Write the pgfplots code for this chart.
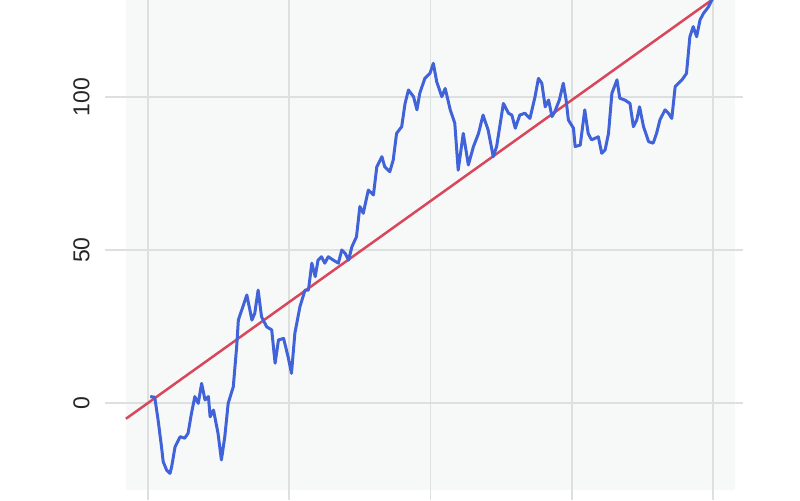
\documentclass[border=0pt]{standalone}
\usepackage{pgfplots}
\pgfplotsset{compat=1.18}
\usepackage{fontspec}
\setmainfont{Liberation Sans}
\definecolor{bgc}{HTML}{F7F9F9}
\definecolor{gridc}{HTML}{DEE0E0}
\definecolor{walkblue}{HTML}{4163D9}
\definecolor{trendred}{HTML}{D9475C}
\begin{document}
\begin{tikzpicture}
\begin{axis}[
  set layers,
  scale only axis,
  width=319pt, height=250pt,
  at={(52.5pt,0pt)}, anchor=north west,
  xmin=-76, xmax=1053, ymin=-31.7, ymax=131.7,
  axis line style={draw=none},
  tick style={draw=none},
  xtick={0,250,500,750,1000}, xticklabels={},
  ytick={0,50,100},
  ytick pos=left,
  grid=major,
  major grid style={gridc, line width=0.8pt},
  major tick length=0pt,
  /pgf/number format/assume math mode=true,
  yticklabel style={xshift=-7.5pt, rotate=90, anchor=south, inner sep=0pt, font=\fontsize{11.5}{13}\selectfont, text=black!85},
]
\addplot[fill=bgc, draw=none, on layer=axis background, forget plot] coordinates {(-39,-28.4) (1039,-28.4) (1039,131.7) (-39,131.7)} -- cycle;
\addplot[trendred, line width=1.25pt] coordinates {(-39,-5.15) (1050,138.6)};
\addplot[walkblue, line width=1.5pt, line join=round] coordinates {
(4,2.1) (12,1.9) (18,-5.6) (24,-14.3) (27,-19.2) (33,-21.9) (39,-23.0) (42,-20.8)
(48,-14.3) (57,-11.0) (65,-11.5) (71,-9.9) (77,-3.4) (83,2.1) (89,-0.1) (95,6.4)
(101,1.0) (107,2.1) (110,-4.5) (116,-2.3) (124,-9.9) (130,-18.6) (136,-11.0) (142,-0.1)
(151,5.3) (157,18.4) (160,27.1) (166,30.4) (175,35.3) (184,27.1) (189,29.3) (195,36.9)
(201,28.2) (210,24.9) (219,23.9) (225,13.0) (231,20.6) (240,21.1) (248,15.1) (254,9.7)
(260,22.8) (269,31.5) (278,36.9) (284,36.9) (290,45.7) (296,41.3) (301,46.7) (307,47.8)
(313,45.7) (319,47.8) (328,46.7) (337,45.7) (343,50.0) (349,48.9) (355,46.7) (361,51.1)
(369,54.3) (375,64.2) (381,62.0) (390,69.6) (399,68.0) (405,77.2) (414,80.5) (419,77.2)
(428,75.6) (434,79.4) (440,88.1) (449,90.3) (455,97.9) (461,102.3) (470,100.1) (476,95.8)
(481,101.2) (490,106.1) (499,107.7) (505,111.0) (511,105.0) (520,100.1) (526,102.8) (535,95.8)
(543,91.4) (549,76.1) (558,88.1) (567,77.8) (576,83.8) (585,88.1) (593,94.1) (602,89.2)
(611,80.5) (617,83.8) (629,97.9) (638,94.7) (644,94.1) (650,89.8) (658,94.1) (667,94.7)
(676,93.0) (685,100.1) (691,106.1) (697,104.5) (703,96.8) (709,99.0) (715,93.6) (720,95.2)
(728,99.0) (735,104.5) (740,99.0) (744,92.5) (753,89.8) (756,83.8) (765,84.3) (773,95.8)
(779,88.1) (785,86.0) (797,87.0) (803,81.6) (809,82.7) (815,88.1) (821,101.2) (830,105.6)
(835,99.6) (844,99.0) (853,97.9) (859,90.3) (865,92.5) (870,96.8) (877,90.3) (886,85.4)
(894,84.9) (900,88.1) (906,92.5) (915,95.8) (921,94.7) (927,93.0) (933,103.4) (945,105.6)
(953,107.7) (959,119.7) (965,123.0) (971,119.7) (977,125.2) (983,127.3) (992,129.5) (998,131.7)
(1002,133.5)
};
\end{axis}
\pgfresetboundingbox
\path[use as bounding box] (0,0) rectangle (400pt,-250pt);
\end{tikzpicture}
\end{document}
